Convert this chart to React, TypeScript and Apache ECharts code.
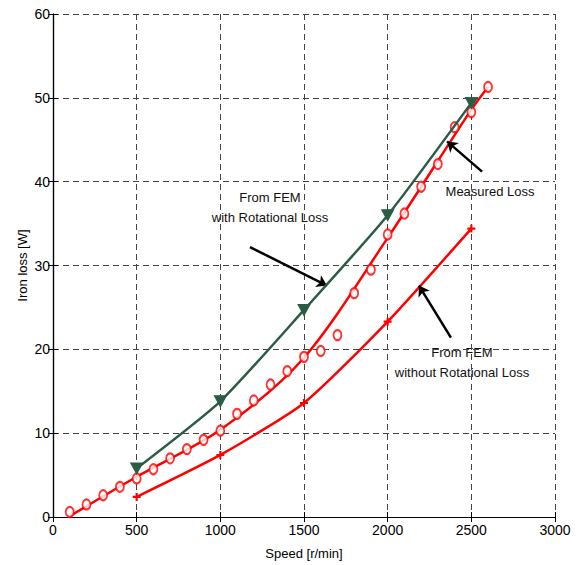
import React, { useEffect, useRef } from "react";
import * as echarts from "echarts";

// Measured iron loss (circles)
const measuredSpeed = [100, 200, 300, 400, 500, 600, 700, 800, 900, 1000, 1100, 1200, 1300, 1400, 1500, 1600, 1700, 1800, 1900, 2000, 2100, 2200, 2300, 2400, 2500, 2600];
const measuredLoss = [0.6, 1.5, 2.6, 3.6, 4.6, 5.7, 7.0, 8.1, 9.2, 10.3, 12.3, 13.9, 15.8, 17.4, 19.1, 19.8, 21.7, 26.7, 29.5, 33.7, 36.2, 39.4, 42.1, 46.5, 48.3, 51.3];

// Fitted curve through measured loss (red solid line)
const fitSpeed = [100, 500, 1000, 1500, 2000, 2500, 2600];
const fitLoss = [0.1, 4.8, 10.4, 19.0, 33.3, 48.6, 51.3];

// FEM results
const femSpeed = [500, 1000, 1500, 2000, 2500];
const femWithRotLoss = [5.8, 13.8, 24.7, 36.0, 49.4];
const femWithoutRotLoss = [2.4, 7.4, 13.6, 23.3, 34.4];

// Axis ranges
const xMin = 0, xMax = 3000, xStep = 500;
const yMin = 0, yMax = 60, yStep = 10;

// Annotation arrows (data coords: from -> to)
const arrowFrom = [[1177, 32.2], [2564, 41.2], [2378, 21.4]];
const arrowTo = [[1637, 27.6], [2355, 44.8], [2187, 27.6]];

const RED = "#ff0000";
const GREEN = "#2b5c45";
const FONT = "'Liberation Sans', Arial, sans-serif";
const FS = 13;
const TICK_FS = 14;

function zip(xs: number[], ys: number[]) {
  return xs.map((x, i) => [x, ys[i]]);
}

export default function App() {
  const ref = useRef<HTMLDivElement>(null);
  useEffect(() => {
    if (!ref.current) return;
    const chart = echarts.init(ref.current, undefined, { renderer: "svg" });
    const gridStyle = { color: "#444", type: [6, 4] as any, width: 1 };
    const labelStyle = { color: "#000", fontSize: FS, fontFamily: FONT };
    const tickStyle = { color: "#000", fontSize: TICK_FS, fontFamily: FONT };
    const plain = (v: number) => String(v);
    chart.setOption({
      animation: false,
      backgroundColor: "#fff",
      grid: { left: 53, right: 33, top: 14, bottom: 43, containLabel: false },
      xAxis: [
        {
          type: "value", min: xMin, max: xMax, interval: xStep,
          name: "Speed [r/min]", nameLocation: "middle", nameGap: 30,
          nameMoveOverlap: false,
          nameTextStyle: { ...labelStyle },
          axisLine: { show: true, lineStyle: { color: "#000", width: 1.2 } },
          axisTick: { show: true, inside: true, length: 5, lineStyle: { color: "#000" } },
          axisLabel: { ...tickStyle, margin: 6, formatter: plain },
          splitLine: { show: true, lineStyle: gridStyle },
        },
        {
          type: "value", position: "top", min: xMin, max: xMax, interval: xStep,
          axisLine: { show: true, lineStyle: { color: "#000", width: 1.2 } },
          axisTick: { show: true, inside: true, length: 5, lineStyle: { color: "#000" } },
          axisLabel: { show: false },
          splitLine: { show: false },
        },
      ],
      yAxis: [
        {
          type: "value", min: yMin, max: yMax, interval: yStep,
          name: "Iron loss [W]", nameLocation: "middle", nameGap: 24,
          nameMoveOverlap: false,
          nameTextStyle: { ...labelStyle },
          axisLine: { show: true, lineStyle: { color: "#000", width: 1.2 } },
          axisTick: { show: true, inside: true, length: 5, lineStyle: { color: "#000" } },
          axisLabel: { ...tickStyle, margin: 3, formatter: plain },
          splitLine: { show: true, lineStyle: gridStyle },
        },
        {
          type: "value", position: "right", min: yMin, max: yMax, interval: yStep,
          axisLine: { show: true, lineStyle: { color: "#000", width: 1.2 } },
          axisTick: { show: true, inside: true, length: 5, lineStyle: { color: "#000" } },
          axisLabel: { show: false },
          splitLine: { show: false },
        },
      ],
      series: [
        {
          type: "line",
          name: "Fit",
          data: zip(fitSpeed, fitLoss),
          smooth: 0.3,
          showSymbol: false,
          symbol: "none",
          lineStyle: { color: RED, width: 2.5 },
          z: 3,
          markLine: {
            silent: true,
            symbol: ["none", "arrow"],
            symbolSize: 10,
            label: { show: false },
            itemStyle: { color: "#000" },
            lineStyle: { color: "#000", width: 2.5, type: "solid" },
            data: arrowFrom.map((f, i) => [{ coord: f }, { coord: arrowTo[i] }]),
          },
        },
        {
          type: "scatter",
          name: "Measured Loss",
          data: zip(measuredSpeed, measuredLoss),
          symbol: "emptyCircle",
          symbolSize: [8, 10],
          itemStyle: { color: RED, borderColor: RED, borderWidth: 2.5 },
          z: 4,
        },
        {
          type: "line",
          name: "From FEM with Rotational Loss",
          data: zip(femSpeed, femWithRotLoss),
          smooth: 0.2,
          symbol: "triangle",
          symbolRotate: 180,
          symbolSize: [12, 11],
          showSymbol: true,
          lineStyle: { color: GREEN, width: 2.5 },
          itemStyle: { color: GREEN, borderColor: GREEN, borderWidth: 1 },
          z: 5,
        },
        {
          type: "line",
          name: "From FEM without Rotational Loss",
          data: zip(femSpeed, femWithoutRotLoss),
          smooth: 0.2,
          symbol: "path://M-0.8,-3L0.8,-3L0.8,-0.8L3,-0.8L3,0.8L0.8,0.8L0.8,3L-0.8,3L-0.8,0.8L-3,0.8L-3,-0.8L-0.8,-0.8Z",
          symbolSize: 8,
          showSymbol: true,
          lineStyle: { color: RED, width: 2.5 },
          itemStyle: { color: RED },
          z: 3,
        },
      ],
      graphic: [
        { type: "text", x: 270, y: 197, style: { text: "From FEM", fill: "#111", font: `${FS}px ${FONT}`, align: "center", verticalAlign: "middle" } },
        { type: "text", x: 270, y: 217, style: { text: "with Rotational Loss", fill: "#111", font: `${FS}px ${FONT}`, align: "center", verticalAlign: "middle" } },
        { type: "text", x: 490, y: 191, style: { text: "Measured Loss", fill: "#111", font: `${FS}px ${FONT}`, align: "center", verticalAlign: "middle" } },
        { type: "text", x: 462, y: 352, style: { text: "From FEM", fill: "#111", font: `${FS}px ${FONT}`, align: "center", verticalAlign: "middle" } },
        { type: "text", x: 462, y: 372, style: { text: "without Rotational Loss", fill: "#111", font: `${FS}px ${FONT}`, align: "center", verticalAlign: "middle" } },
      ],
    });
    return () => chart.dispose();
  }, []);
  return (
    <div
      ref={ref}
      style={{ position: "fixed", left: 0, top: 0, width: 588, height: 565, background: "#fff" }}
    />
  );
}
